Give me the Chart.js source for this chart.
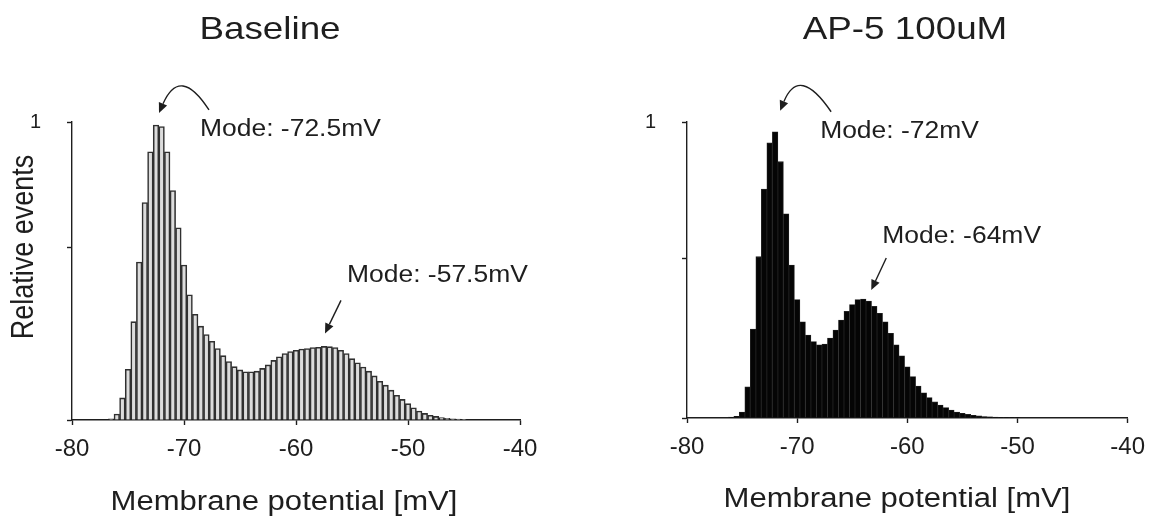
<!doctype html>
<html lang="en">

<head>
    <meta charset="UTF-8" />
    <title>Membrane potential histograms</title>
    <script src="https://cdn.jsdelivr.net/npm/chart.js"></script>
    <style>
        body { margin: 0; background: #fff; }
        .stage { position: relative; width: 1155px; height: 524px; }
        .stage canvas { position: absolute; left: 0; top: 0; }
    </style>
</head>

<body>
    <div class="stage">
        <canvas id="baselineChart" width="1155" height="524"></canvas>
        <canvas id="ap5Chart" width="1155" height="524"></canvas>
    </div>

    <script>
        // bin centres (mV) and relative event counts
        const baselineBins = [-76.5, -76, -75.5, -75, -74.5, -74, -73.5, -73, -72.5, -72, -71.5, -71, -70.5, -70,
            -69.5, -69, -68.5, -68, -67.5, -67, -66.5, -66, -65.5, -65, -64.5, -64, -63.5, -63, -62.5, -62,
            -61.5, -61, -60.5, -60, -59.5, -59, -58.5, -58, -57.5, -57, -56.5, -56, -55.5, -55, -54.5, -54,
            -53.5, -53, -52.5, -52, -51.5, -51, -50.5, -50, -49.5, -49, -48.5, -48, -47.5, -47, -46.5, -46,
            -45.5, -45];
        const baselineEvents = [0.004, 0.02, 0.074, 0.17, 0.33, 0.53, 0.73, 0.90, 0.99, 0.985, 0.90, 0.77, 0.645, 0.52,
            0.42, 0.355, 0.315, 0.287, 0.264, 0.24, 0.216, 0.196, 0.179, 0.168, 0.162, 0.162, 0.164, 0.173, 0.185, 0.2,
            0.212, 0.223, 0.23, 0.234, 0.238, 0.24, 0.243, 0.244, 0.247, 0.246, 0.243, 0.234, 0.223, 0.206, 0.192, 0.178,
            0.164, 0.148, 0.13, 0.117, 0.1, 0.083, 0.069, 0.055, 0.041, 0.03, 0.022, 0.016, 0.012, 0.008, 0.006, 0.004,
            0.003, 0.002];

        const ap5Bins = [-76, -75.5, -75, -74.5, -74, -73.5, -73, -72.5, -72, -71.5, -71, -70.5, -70, -69.5, -69,
            -68.5, -68, -67.5, -67, -66.5, -66, -65.5, -65, -64.5, -64, -63.5, -63, -62.5, -62, -61.5, -61, -60.5,
            -60, -59.5, -59, -58.5, -58, -57.5, -57, -56.5, -56, -55.5, -55, -54.5, -54, -53.5, -53, -52.5, -52,
            -51.5, -51, -50.5, -50];
        const ap5Events = [0.003, 0.006, 0.02, 0.105, 0.30, 0.545, 0.773, 0.93, 0.967, 0.866, 0.69, 0.517, 0.40, 0.325, 0.28,
            0.258, 0.247, 0.25, 0.27, 0.297, 0.331, 0.36, 0.383, 0.40, 0.402, 0.395, 0.377, 0.354, 0.325, 0.286, 0.247, 0.21,
            0.173, 0.14, 0.108, 0.085, 0.069, 0.055, 0.044, 0.035, 0.027, 0.02, 0.016, 0.012, 0.009, 0.007, 0.005, 0.004, 0.003,
            0.002, 0.002, 0.001, 0.001];

        const xTicks = [-80, -70, -60, -50, -40];
        const baselineYTicks = [0, 0.58, 1];
        const ap5YTicks = [0, 0.54, 1];

        const FONT = "'Liberation Sans', Arial, sans-serif";
        const INK = "#1e1e1e";
        const STRETCH = 1.15; // the source figure is a little wider than tall

        function drawText(ctx, text, x, y, size, opts = {}) {
            ctx.save();
            ctx.translate(x, y);
            if (opts.rotate) {
                ctx.rotate(-Math.PI / 2);
                ctx.scale(1, STRETCH);
            } else {
                ctx.scale(STRETCH, 1);
            }
            ctx.font = `${size}px ${FONT}`;
            ctx.textAlign = opts.align || "center";
            ctx.textBaseline = "middle";
            ctx.fillText(text, 0, 0);
            ctx.restore();
        }

        function drawArrow(ctx, tail, ctrl, tip) {
            const from = ctrl || tail;
            const ang = Math.atan2(tip[1] - from[1], tip[0] - from[0]);
            const head = 10, half = 4.5;
            const bx = tip[0] - head * Math.cos(ang), by = tip[1] - head * Math.sin(ang);
            ctx.beginPath();
            ctx.moveTo(tail[0], tail[1]);
            if (ctrl) ctx.quadraticCurveTo(ctrl[0], ctrl[1], bx, by);
            else ctx.lineTo(bx, by);
            ctx.stroke();
            ctx.beginPath();
            ctx.moveTo(tip[0], tip[1]);
            ctx.lineTo(bx + half * Math.sin(ang), by - half * Math.cos(ang));
            ctx.lineTo(bx - half * Math.sin(ang), by + half * Math.cos(ang));
            ctx.closePath();
            ctx.fill();
        }

        // titles, axis titles and the "Mode" call-outs
        const figureText = {
            id: "figureText",
            afterDraw(chart, args, opts) {
                const { ctx, scales: { x, y } } = chart;
                const data = chart.data.datasets[0].data;
                ctx.save();
                ctx.fillStyle = INK;
                ctx.strokeStyle = INK;
                ctx.lineWidth = 1.4;
                (opts.labels || []).forEach(l => drawText(ctx, l.text, l.x, l.y, l.size, l));

                (opts.modes || []).forEach(m => {
                    const bin = data.find(d => d.x === m.mode);
                    const px = x.getPixelForValue(m.mode);
                    const py = y.getPixelForValue(bin.y);
                    const at = o => [px + o[0], py + o[1]];
                    drawArrow(ctx, at(m.tail), m.ctrl ? at(m.ctrl) : null, at(m.tip));
                    drawText(ctx, `Mode: ${m.mode}mV`, px + m.text[0], py + m.text[1], 23, { align: "left" });
                });
                ctx.restore();
            }
        };

        function makeChart(id, bins, events, yTicks, cfg) {
            const ctx = document.getElementById(id).getContext("2d");
            return new Chart(ctx, {
                type: "bar",
                data: {
                    datasets: [{
                        data: bins.map((b, i) => ({ x: b, y: events[i] })),
                        backgroundColor: cfg.fill,
                        borderColor: cfg.edge,
                        borderWidth: cfg.edgeWidth,
                        barPercentage: 1,
                        categoryPercentage: 1,
                    }],
                },
                options: {
                    responsive: false,
                    animation: false,
                    events: [],
                    layout: { padding: cfg.padding },
                    plugins: {
                        legend: { display: false },
                        tooltip: { enabled: false },
                        figureText: { labels: cfg.labels, modes: cfg.modes },
                    },
                    scales: {
                        x: {
                            type: "linear",
                            min: -80,
                            max: -40,
                            offset: false,
                            afterBuildTicks: s => { s.ticks = xTicks.map(v => ({ value: v })); },
                            afterFit: s => { s.height = cfg.xHeight; },
                            grid: { offset: false, drawOnChartArea: false, drawTicks: true, tickLength: 5, tickColor: INK, tickWidth: 1.4 },
                            border: { color: INK, width: 1.4 },
                            ticks: { color: INK, font: { family: FONT, size: 24 }, padding: 10, maxRotation: 0, autoSkip: false },
                        },
                        y: {
                            min: 0,
                            max: 1,
                            afterBuildTicks: s => { s.ticks = yTicks.map(v => ({ value: v })); },
                            afterFit: s => { s.width = cfg.yWidth; },
                            grid: { drawOnChartArea: false, drawTicks: true, tickLength: 5, tickColor: INK, tickWidth: 1.4 },
                            border: { color: INK, width: 1.4 },
                            ticks: {
                                color: INK, font: { family: FONT, size: 20 }, padding: 26,
                                callback: v => (v === 1 ? "1" : ""),
                            },
                        },
                    },
                },
                plugins: [figureText],
            });
        }

        makeChart("baselineChart", baselineBins, baselineEvents, baselineYTicks, {
            fill: "#dcdcdc",
            edge: "#303030",
            edgeWidth: 1.6,
            padding: { top: 122, right: 635, left: 0, bottom: 0 },
            xHeight: 104,
            yWidth: 72,
            labels: [
                { text: "Baseline", x: 270, y: 30, size: 32 },
                { text: "Relative events", x: 24, y: 247, size: 27, rotate: true },
                { text: "Membrane potential [mV]", x: 284, y: 503, size: 27 },
            ],
            modes: [
                { mode: -72.5, tail: [53, -15], ctrl: [24, -60], tip: [3, -12], text: [44, 5] },
                { mode: -57.5, tail: [17, -46], tip: [1, -13], text: [23, -71] },
            ],
        });

        makeChart("ap5Chart", ap5Bins, ap5Events, ap5YTicks, {
            fill: "#050505",
            edge: "#222222",
            edgeWidth: 0.8,
            padding: { top: 122, right: 24, left: 0, bottom: 0 },
            xHeight: 106,
            yWidth: 687,
            labels: [
                { text: "AP-5 100uM", x: 905, y: 30, size: 32 },
                { text: "Membrane potential [mV]", x: 897, y: 500, size: 27 },
            ],
            modes: [
                { mode: -72, tail: [56, -20], ctrl: [24, -67], tip: [5, -21], text: [45, 0] },
                { mode: -64, tail: [23, -41], tip: [8, -9], text: [19, -62] },
            ],
        });
    </script>
</body>

</html>
